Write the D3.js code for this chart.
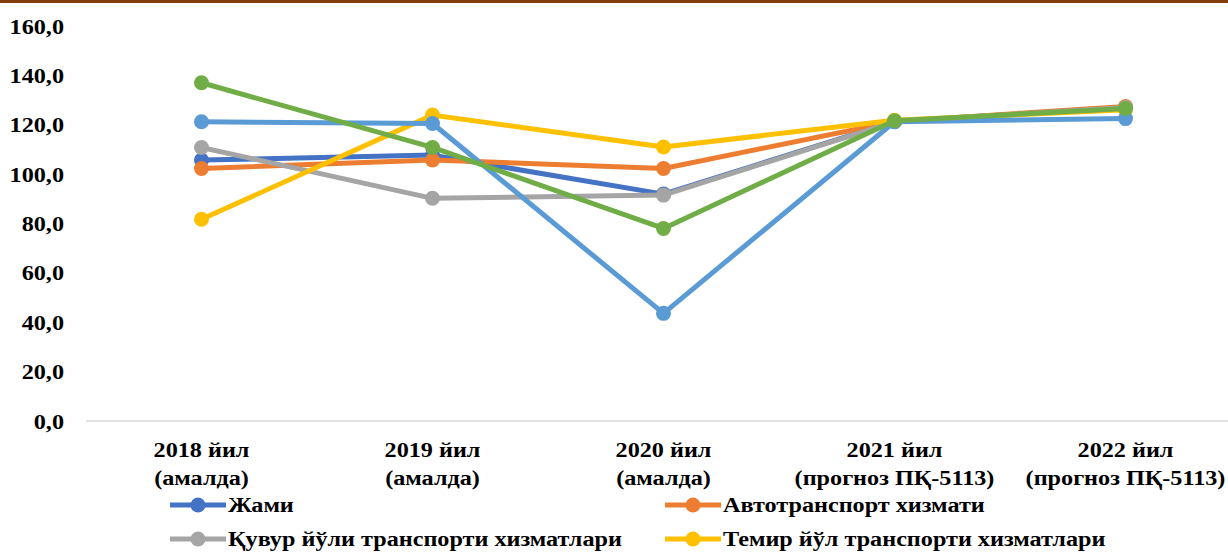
<!DOCTYPE html>
<html>
<head>
<meta charset="utf-8">
<script src="https://cdn.jsdelivr.net/npm/d3@7"></script>
<style>
    body { margin: 0; background: #fff; }
    svg { display: block; }
</style>
</head>
<body>
<div id="chart"></div>
<script>
const width = 1228,
    height = 553,
    fontFamily = "'Liberation Serif', serif",
    stretch = 1.1; // ёзувлар эни бўйича бироз кенгайтирилган

// Категориялар (иккита қаторли ёзув)
const years = ["2018 йил", "2019 йил", "2020 йил", "2021 йил", "2022 йил"];
const yearNotes = ["(амалда)", "(амалда)", "(амалда)", "(прогноз ПҚ-5113)", "(прогноз ПҚ-5113)"];
const yTicks = [0, 20, 40, 60, 80, 100, 120, 140, 160];

// Серия қийматлари
const jami = [105.7, 107.7, 91.9, 121.3, 127.0];
const avto = [102.3, 105.7, 102.3, 121.3, 127.4];
const quvur = [110.8, 90.2, 91.5, 121.2, 127.0];
const temir = [81.7, 123.9, 111.0, 121.8, 126.1];
const havo = [121.2, 120.5, 43.6, 121.2, 122.5];
const boshqa = [137.0, 110.8, 78.0, 121.6, 126.6];

const seriesNames = ["Жами", "Автотранспорт хизмати", "Қувур йўли транспорти хизматлари",
    "Темир йўл транспорти хизматлари", "Ҳаво транспорти хизматлари", "Бошқа транспорт хизматлари"];
const seriesValues = [jami, avto, quvur, temir, havo, boshqa];
const colors = ["#4472C4", "#ED7D31", "#A5A5A5", "#FFC000", "#5B9BD5", "#70AD47"];

const series = seriesNames.map((name, i) => ({ name: name, values: seriesValues[i], color: colors[i] }));

const svg = d3.select("#chart")
    .append("svg")
    .attr("width", width)
    .attr("height", height);

// Ёзувлар учун умумий услуб
function styleText(sel, size) {
    sel.style("font-family", fontFamily)
        .style("font-weight", "bold")
        .style("font-size", size + "px")
        .style("fill", "#000");
}

// Юқоридаги жигарранг чизиқ
svg.append("rect")
    .attr("x", 0).attr("y", 0)
    .attr("width", width).attr("height", 3)
    .attr("fill", "#843C0C");

const x = d3.scalePoint()
    .domain(years)
    .range([86, 1241])
    .padding(0.5);

const y = d3.scaleLinear()
    .domain([0, 160])
    .range([421, 26]);

const fmt = v => d3.format(".1f")(v).replace(".", ",");

// Y ўқи
const yAxis = svg.append("g")
    .attr("transform", "translate(64,0)")
    .call(d3.axisLeft(y).tickValues(yTicks).tickFormat(fmt).tickSize(0).tickPadding(0));
yAxis.select(".domain").remove();
yAxis.selectAll("text")
    .attr("transform", "scale(" + stretch + ",1)")
    .call(styleText, 22);

// Нол чизиғи
svg.append("line")
    .attr("x1", 86).attr("x2", 1241)
    .attr("y1", y(0)).attr("y2", y(0))
    .attr("stroke", "#D9D9D9")
    .attr("stroke-width", 1.5);

// X ёзувлари
const xLabels = svg.append("g");
xLabels.selectAll("text.year")
    .data(years)
    .enter()
    .append("text")
    .attr("class", "year")
    .attr("transform", d => "translate(" + x(d) + ",457) scale(" + stretch + ",1)")
    .attr("text-anchor", "middle")
    .call(styleText, 22)
    .text(d => d);
xLabels.selectAll("text.note")
    .data(years)
    .enter()
    .append("text")
    .attr("class", "note")
    .attr("transform", d => "translate(" + x(d) + ",485) scale(" + stretch + ",1)")
    .attr("text-anchor", "middle")
    .call(styleText, 22)
    .text((d, i) => yearNotes[i]);

// Чизиқлар
const line = d3.line()
    .x((d, i) => x(years[i]))
    .y(d => y(d));

const groups = svg.selectAll("g.series")
    .data(series)
    .enter()
    .append("g")
    .attr("class", "series");

groups.append("path")
    .attr("d", d => line(d.values))
    .attr("fill", "none")
    .attr("stroke", d => d.color)
    .attr("stroke-width", 5)
    .attr("stroke-linejoin", "round");

groups.selectAll("circle")
    .data(d => d.values.map(v => ({ v: v, color: d.color })))
    .enter()
    .append("circle")
    .attr("cx", (d, i) => x(years[i]))
    .attr("cy", d => y(d.v))
    .attr("r", 7.5)
    .attr("fill", d => d.color);

// Легенда
const legendItems = svg.append("g")
    .selectAll("g")
    .data(series)
    .enter()
    .append("g")
    .attr("transform", (d, i) => "translate(" + (i % 2 === 0 ? 170 : 665) + "," + (505 + Math.floor(i / 2) * 34) + ")");

legendItems.append("line")
    .attr("x1", 0).attr("x2", 56)
    .attr("y1", 0).attr("y2", 0)
    .attr("stroke", d => d.color)
    .attr("stroke-width", 5);

legendItems.append("circle")
    .attr("cx", 28).attr("cy", 0)
    .attr("r", 7.5)
    .attr("fill", d => d.color);

legendItems.append("text")
    .attr("transform", "translate(58,7) scale(" + stretch + ",1)")
    .call(styleText, 22)
    .text(d => d.name);
</script>
</body>
</html>
